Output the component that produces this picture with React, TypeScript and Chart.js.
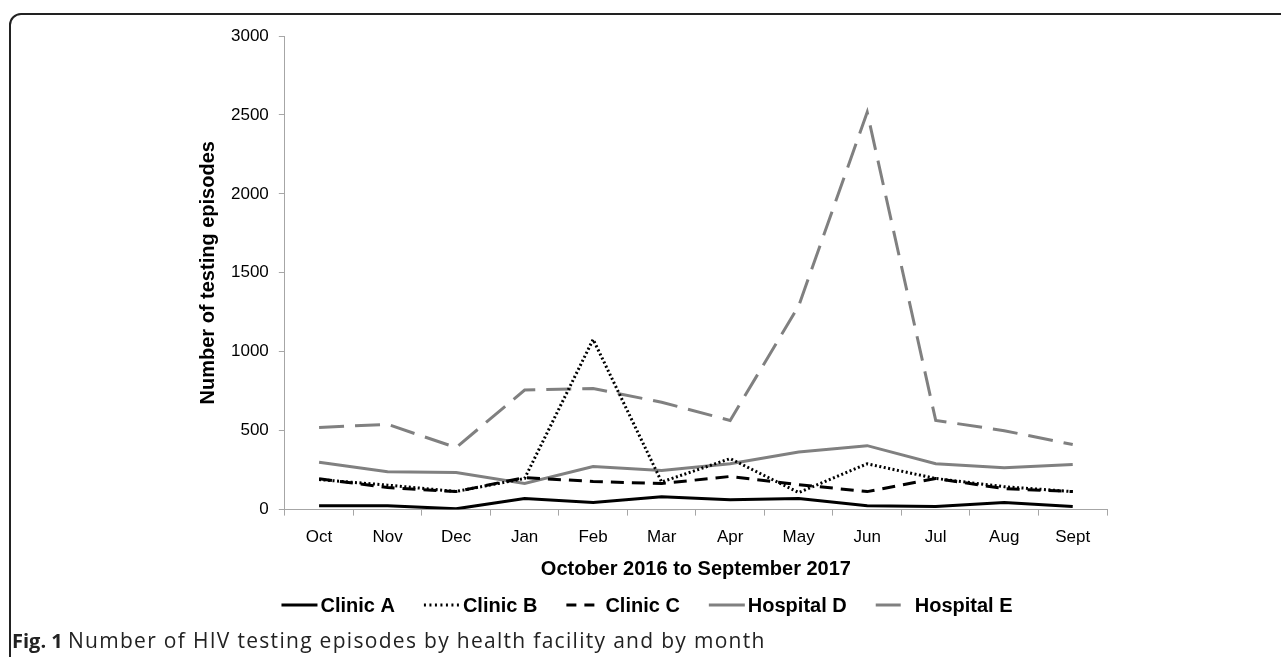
import React, { useEffect, useRef } from "react";
import { Chart, registerables } from "chart.js";

Chart.register(...registerables);

const months = ["Oct", "Nov", "Dec", "Jan", "Feb", "Mar", "Apr", "May", "Jun", "Jul", "Aug", "Sept"];
const clinicA = [25, 25, 5, 70, 45, 82, 63, 70, 25, 20, 45, 20];
const clinicB = [190, 155, 115, 197, 1078, 175, 323, 108, 290, 197, 145, 114];
const clinicC = [195, 140, 114, 203, 178, 165, 210, 158, 114, 197, 133, 114];
const hospitalD = [300, 240, 235, 165, 273, 247, 290, 365, 405, 290, 265, 285];
const hospitalE = [520, 540, 393, 757, 767, 680, 565, 1290, 2517, 565, 500, 412];
const yTicks = [0, 500, 1000, 1500, 2000, 2500, 3000];

const FONT = "'Liberation Sans', Arial, sans-serif";

const legendPlugin = {
  id: "customLegend",
  afterDraw(chart: any) {
    const ctx = chart.ctx as CanvasRenderingContext2D;
    const sample = 36;
    const gap = 3;
    const spacing = 29;
    const y = 605;
    ctx.save();
    ctx.font = `bold 20px ${FONT}`;
    const items = chart.data.datasets.map((ds: any) => ({
      ds,
      w: sample + gap + ctx.measureText(ds.label).width,
    }));
    const total = items.reduce((s: number, it: any) => s + it.w, 0) + spacing * (items.length - 1);
    let x = 647 - total / 2;
    for (const it of items) {
      const ds = it.ds;
      ctx.save();
      ctx.strokeStyle = ds.borderColor;
      ctx.lineWidth = ds.borderWidth;
      ctx.setLineDash(ds.legendDash || ds.borderDash || []);
      ctx.beginPath();
      ctx.moveTo(x, y);
      ctx.lineTo(x + sample, y);
      ctx.stroke();
      ctx.restore();
      ctx.fillStyle = "#000";
      ctx.textBaseline = "middle";
      ctx.textAlign = "left";
      ctx.fillText(ds.label, x + sample + gap, y + 1);
      x += it.w + spacing;
    }
    ctx.restore();
  },
};

export default function App() {
  const ref = useRef<HTMLCanvasElement | null>(null);

  useEffect(() => {
    document.body.style.overflow = "hidden";
    const ctx = ref.current;
    if (!ctx) return;
    const black = "#000000";
    const gray = "#808080";
    const common = { pointRadius: 0, pointHoverRadius: 0, borderWidth: 3, tension: 0, fill: false };
    const chart = new Chart(ctx, {
      type: "line",
      data: {
        labels: months,
        datasets: [
          { ...common, label: "Clinic A", data: clinicA, borderColor: black, backgroundColor: black },
          { ...common, label: "Clinic B", data: clinicB, borderColor: black, backgroundColor: black, borderDash: [2, 2.5], legendDash: [2, 3.5] },
          { ...common, label: "Clinic C", data: clinicC, borderColor: black, backgroundColor: black, borderDash: [13, 8], legendDash: [10, 8] },
          { ...common, label: "Hospital D", data: hospitalD, borderColor: gray, backgroundColor: gray },
          { ...common, label: "Hospital E", data: hospitalE, borderColor: gray, backgroundColor: gray, borderDash: [25, 11], legendDash: [25, 20] },
        ] as any,
      },
      options: {
        animation: false,
        responsive: false,
        maintainAspectRatio: false,
        layout: { padding: { left: 196, right: 174, top: 36, bottom: 76 } },
        plugins: {
          tooltip: { enabled: false },
          legend: { display: false },
        },
        scales: {
          x: {
            type: "category",
            offset: true,
            grid: { display: true, drawOnChartArea: false, drawTicks: true, tickLength: 6, offset: true, color: "#a6a6a6" },
            border: { display: true, color: "#a6a6a6", width: 1 },
            ticks: { color: "#000", font: { family: FONT, size: 17 }, padding: 12, maxRotation: 0, autoSkip: false },
            title: { display: true, text: "October 2016 to September 2017", color: "#000", font: { family: FONT, size: 20, weight: "bold" }, padding: { top: -3, bottom: 0 } },
          },
          y: {
            min: 0,
            max: 3000,
            afterBuildTicks: (axis: any) => { axis.ticks = yTicks.map((v) => ({ value: v })); },
            grid: { display: true, drawOnChartArea: false, drawTicks: true, tickLength: 6, color: "#a6a6a6" },
            border: { display: true, color: "#a6a6a6", width: 1 },
            ticks: { color: "#000", font: { family: FONT, size: 17 }, padding: 10, callback: (v: any) => String(v) },
            title: { display: true, text: "Number of testing episodes", color: "#000", font: { family: FONT, size: 20, weight: "bold" }, padding: { top: 0, bottom: 1 } },
          },
        },
      },
      plugins: [legendPlugin],
    });
    return () => chart.destroy();
  }, []);

  return (
    <div>
      <div
        style={{
          position: "absolute",
          left: 9,
          top: 13,
          width: 1300,
          height: 700,
          border: "2px solid #222",
          borderRadius: 12,
          boxSizing: "border-box",
        }}
      />
      <canvas ref={ref} width={1281} height={657} style={{ position: "absolute", left: 0, top: 0 }} />
      <div
        style={{
          position: "absolute",
          left: 12,
          top: 626,
          fontFamily: "'Open Sans', 'Noto Sans', sans-serif",
          fontSize: 20,
          color: "#222",
          whiteSpace: "nowrap",
        }}
      >
        <b>Fig. 1</b> <span style={{ fontSize: 21, letterSpacing: "1.3px" }}>Number of HIV testing episodes by health facility and by month</span>
      </div>
    </div>
  );
}
